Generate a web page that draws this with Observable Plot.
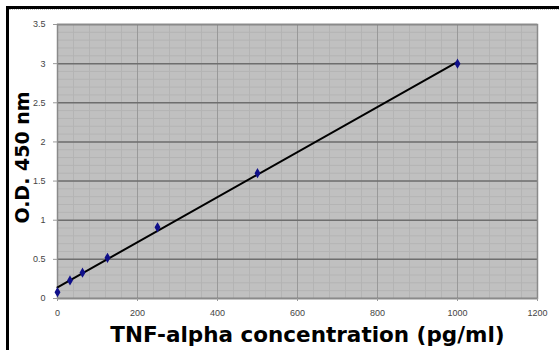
<!DOCTYPE html>
<html><head><meta charset="utf-8">
<script src="https://cdn.jsdelivr.net/npm/d3@7"></script>
<script src="https://cdn.jsdelivr.net/npm/@observablehq/plot@0.6"></script>
<style>
body{margin:0;background:#fff;}
#wrap{position:relative;width:559px;height:350px;overflow:hidden;}
#border{position:absolute;left:6px;top:6px;width:600px;height:400px;border-top:3px solid #000;border-left:3px solid #000;}
#inner{position:absolute;left:9px;top:9px;width:600px;height:1px;border-top:1px dotted #bbb;}
#chart{position:absolute;left:0;top:0;}
</style></head>
<body><div id="wrap"><div id="border"></div><div id="inner"></div><div id="chart"></div></div>
<script>
const conc = [0, 31.25, 62.5, 125, 250, 500, 1000];
const od = [0.08, 0.23, 0.33, 0.52, 0.91, 1.60, 3.00];
const xTicks = [0, 200, 400, 600, 800, 1000, 1200];
const yTicks = [0, 0.5, 1, 1.5, 2, 2.5, 3, 3.5];
const xLabel = "TNF-alpha concentration (pg/ml)";
const yLabel = "O.D. 450 nm";

const data = conc.map((c, i) => ({x: c, y: od[i]}));
const xMinor = d3.range(0, 1201, 40);
const yMinor = d3.range(0, 36).map(i => i / 10);
const fmt = d => String(d);

const chart = Plot.plot({
  width: 559, height: 350,
  marginLeft: 57, marginRight: 22, marginTop: 24, marginBottom: 52,
  style: {fontFamily: "Arial, 'Liberation Sans', sans-serif", background: "transparent"},
  x: {domain: [0, 1200]},
  y: {domain: [0, 3.5]},
  marks: [
    Plot.frame({fill: "#c0c0c0", stroke: null}),
    Plot.ruleX(xMinor, {stroke: "#b4b4b4", strokeWidth: 1}),
    Plot.ruleY(yMinor, {stroke: "#b4b4b4", strokeWidth: 1}),
    Plot.ruleX(xTicks, {stroke: "#999", strokeWidth: 1}),
    Plot.ruleY(yTicks, {stroke: "#6e6e6e", strokeWidth: 1.5}),
    Plot.frame({stroke: "#8a8a8a", strokeWidth: 1.5}),
    Plot.axisX({ticks: xTicks, tickFormat: fmt, tickSize: 3, tickPadding: 8, fontSize: 9, label: null, color: "#444", stroke: "#999"}),
    Plot.axisY({ticks: yTicks, tickFormat: fmt, tickSize: 4, tickPadding: 8, fontSize: 9, label: null, color: "#444", stroke: "#999"}),
    Plot.linearRegressionY(data, {x: "x", y: "y", ci: 0, stroke: "#000", strokeWidth: 2}),
    Plot.dot(data, {x: "x", y: "y", symbol: "diamond", r: 2.2, fill: "#10108a", stroke: "#10108a"}),
    Plot.text([xLabel], {frameAnchor: "bottom", dy: 43, dx: 10, fontSize: 21.5, fontWeight: "bold", fontFamily: "DejaVu Sans", fill: "#000", lineAnchor: "bottom", textAnchor: "middle"}),
    Plot.text([yLabel], {frameAnchor: "left", rotate: -90, dx: -35, dy: -4, fontSize: 19, fontWeight: "bold", fontFamily: "DejaVu Sans", fill: "#000", textAnchor: "middle"})
  ]
});
document.getElementById("chart").appendChild(chart);
</script></body></html>
